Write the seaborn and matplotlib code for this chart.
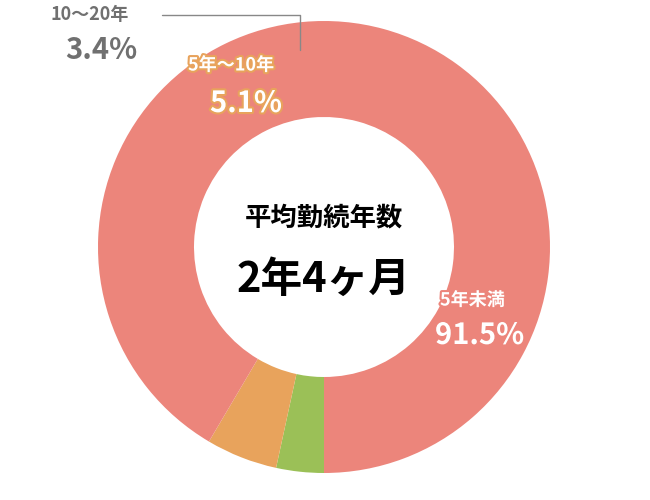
import matplotlib
matplotlib.use("Agg")
import matplotlib.pyplot as plt
import matplotlib.patheffects as pe
import seaborn as sns

sns.set_theme(style="white")
plt.rcParams["font.family"] = "Noto Sans CJK JP"

labels = ["10〜20年", "5年〜10年", "5年未満"]
values = [3.4, 5.1, 91.5]
colors = ["#9BC057", "#E8A35C", "#EC857B"]

fig = plt.figure(figsize=(6.5, 5), dpi=100)
ax = fig.add_axes([0, 0, 1, 1])
ax.pie(values, colors=colors, startangle=90, counterclock=True,
       center=(324, 247), radius=226,
       wedgeprops=dict(width=96, linewidth=0), frame=True)
ax.set_xlim(0, 650)
ax.set_ylim(500, 0)
ax.set_aspect("equal")
ax.axis("off")

def lbl(x, y, text, size, color, edge=None, ha="left"):
    t = ax.text(x, y, text, fontsize=size, color=color, fontweight="bold",
                ha=ha, va="center")
    if edge:
        t.set_path_effects([pe.withStroke(linewidth=3, foreground=edge)])

# 10~20年 callout
lbl(50, 15, labels[0], 13, "#707070")
lbl(65, 50, f"{values[0]}%", 21, "#707070")
ax.plot([162, 300, 300], [15, 15, 50], color="#888888", lw=1)

lbl(188, 65, labels[1], 13, "white", colors[1])
lbl(210, 103, f"{values[1]}%", 21, "white", colors[1])

lbl(440, 300, labels[2], 13, "white", colors[2])
lbl(435, 335, f"{values[2]}%", 21, "white", colors[2])

ax.text(324, 218, "平均勤続年数", fontsize=19, fontweight="bold", ha="center", va="center", color="black")
ax.text(324, 280, "2年4ヶ月", fontsize=30, fontweight="bold", ha="center", va="center", color="black")

fig.savefig("out.png", dpi=100)
